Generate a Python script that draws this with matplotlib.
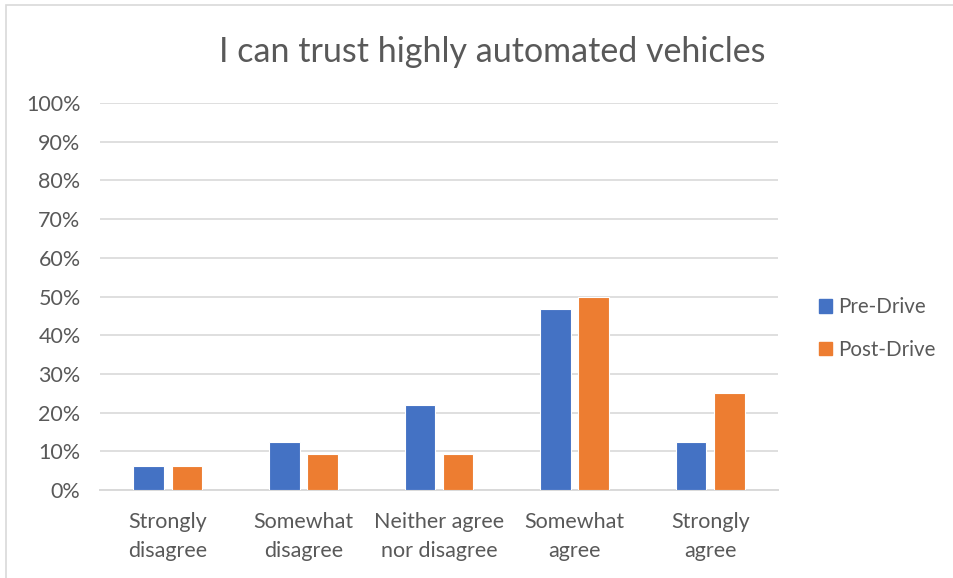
import matplotlib
matplotlib.use('Agg')

import numpy as np
import matplotlib.pyplot as plt
from matplotlib.patches import Rectangle, Patch

# Survey answers (% of respondents)
categories = ['Strongly\ndisagree', 'Somewhat\ndisagree', 'Neither agree\nnor disagree',
              'Somewhat\nagree', 'Strongly\nagree']
pre_drive = [6.25, 12.5, 21.875, 46.875, 12.5]
post_drive = [6.25, 9.375, 9.375, 50.0, 25.0]
series_names = ['Pre-Drive', 'Post-Drive']
y_ticks = list(range(0, 101, 10))

blue = '#4472C4'
orange = '#ED7D31'
grey_text = '#595959'

plt.rcParams['font.family'] = ['Lato', 'DejaVu Sans']

fig = plt.figure(figsize=(9.54, 5.78), dpi=100)
ax = fig.add_axes([0.1048, 0.1522, 0.7107, 0.6696])

x = np.arange(len(categories))
w = 0.225
ax.bar(x - 0.141, pre_drive, w, color=blue, edgecolor='white', linewidth=0.8,
       label=series_names[0], zorder=3)
ax.bar(x + 0.141, post_drive, w, color=orange, edgecolor='white', linewidth=0.8,
       label=series_names[1], zorder=3)

ax.set_xlim(-0.5, len(categories) - 0.5)
ax.set_ylim(0, 100)
ax.set_yticks(y_ticks)
ax.set_yticklabels([f'{t}%' for t in y_ticks])
ax.set_xticks(x)
ax.set_xticklabels(categories, linespacing=1.55)

ax.grid(axis='y', color='#d9d9d9', linewidth=1.2, zorder=0)
for s in ['top', 'right', 'left']:
    ax.spines[s].set_visible(False)
ax.spines['bottom'].set_color('#d9d9d9')
ax.spines['bottom'].set_linewidth(1.4)
ax.tick_params(axis='both', length=0, labelsize=15.5, colors=grey_text)
ax.tick_params(axis='y', pad=14)
ax.tick_params(axis='x', pad=16)

fig.text(0.516, 0.91, 'I can trust highly automated vehicles', ha='center', va='center',
         fontsize=24.5, color=grey_text)

handles = [Patch(color=blue), Patch(color=orange)]
fig.legend(handles, series_names, loc='center left', bbox_to_anchor=(0.839, 0.432),
           frameon=False, fontsize=14.8, labelcolor=grey_text, handlelength=0.65,
           handleheight=0.65, handletextpad=0.3, labelspacing=1.1)

# chart border
fig.patches.append(Rectangle((6 / 954, -0.05), 1.05, 1 - 5 / 578 + 0.05,
                             transform=fig.transFigure, fill=False,
                             edgecolor='#d9d9d9', linewidth=1.2))

fig.savefig('out.png', dpi=100)
